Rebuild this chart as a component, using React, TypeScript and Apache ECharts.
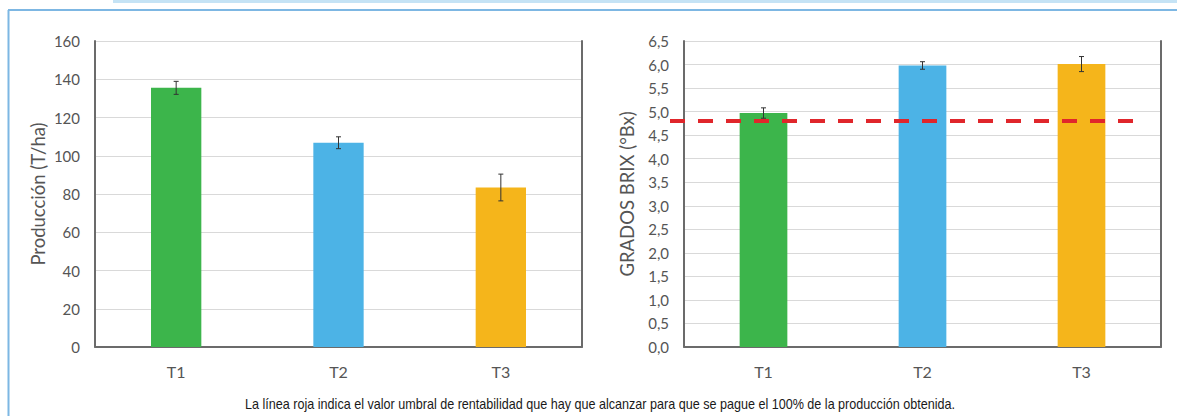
import React, { useEffect, useRef } from "react";
import * as echarts from "echarts";

const categories = ["T1", "T2", "T3"];
const production = [135.5, 106.8, 83.4];
const productionErr = [3.4, 3.1, 7.0];
const brix = [4.97, 5.98, 6.01];
const brixErr = [0.11, 0.08, 0.16];
const threshold = 4.8;
const barColors = ["#3cb54b", "#4cb3e6", "#f5b51b"];
const prodAxis = { min: 0, max: 160, interval: 20 };
const brixAxis = { min: 0, max: 6.5, interval: 0.5 };
const leftAxisName = "Producción (T/ha)";
const rightAxisName = "GRADOS BRIX (°Bx)";
const caption =
  "La línea roja indica el valor umbral de rentabilidad que hay que alcanzar para que se pague el 100% de la producción obtenida.";

const FONT = "Lato, 'Open Sans', sans-serif";
const LABEL = "#555555";
const DARK = "#6b6b6b";
const LIGHT = "#d9d9d9";

function errorBarSeries(values: number[], errs: number[], axisIdx: number) {
  return {
    type: "custom",
    xAxisIndex: axisIdx,
    yAxisIndex: axisIdx,
    z: 5,
    data: values.map((v, i) => [i, v - errs[i], v + errs[i]]),
    renderItem: (params: any, api: any) => {
      const lo = api.coord([api.value(0), api.value(1)]);
      const hi = api.coord([api.value(0), api.value(2)]);
      const cap = 2.5;
      const style = { stroke: "#333", lineWidth: 1 };
      return {
        type: "group",
        children: [
          { type: "line", shape: { x1: hi[0], y1: hi[1], x2: lo[0], y2: lo[1] }, style },
          { type: "line", shape: { x1: hi[0] - cap, y1: hi[1], x2: hi[0] + cap, y2: hi[1] }, style },
          { type: "line", shape: { x1: lo[0] - cap, y1: lo[1], x2: lo[0] + cap, y2: lo[1] }, style },
        ],
      };
    },
  };
}

function barSeries(values: number[], axisIdx: number, width: string) {
  return {
    type: "bar",
    xAxisIndex: axisIdx,
    yAxisIndex: axisIdx,
    barWidth: width,
    z: 3,
    data: values.map((v, i) => ({ value: v, itemStyle: { color: barColors[i] } })),
  };
}

export default function App() {
  const ref = useRef<HTMLDivElement>(null);
  useEffect(() => {
    if (!ref.current) return;
    const chart = echarts.init(ref.current, undefined, { renderer: "svg" });

    const fmtComma = (v: number) => v.toFixed(1).replace(".", ",");

    const xBottom = (gridIndex: number) => ({
      type: "category",
      gridIndex,
      data: categories,
      position: "bottom",
      axisLine: { show: true, lineStyle: { color: LIGHT, width: 1 } },
      axisTick: { show: false },
      axisLabel: { color: LABEL, fontSize: 16, fontFamily: FONT, margin: 16 },
    });
    const xTop = (gridIndex: number) => ({
      type: "category",
      gridIndex,
      data: categories,
      position: "top",
      axisLine: { show: true, lineStyle: { color: DARK, width: 2 } },
      axisTick: { show: false },
      axisLabel: { show: false },
    });
    const yLeft = (gridIndex: number, ax: any, name: string, fmt?: any) => ({
      type: "value",
      gridIndex,
      position: "left",
      ...ax,
      name,
      nameLocation: "middle",
      nameGap: 48,
      nameTextStyle: { color: LABEL, fontSize: 18.5, fontFamily: FONT },
      axisLine: { show: true, lineStyle: { color: DARK, width: 2 } },
      axisTick: { show: false },
      axisLabel: { color: LABEL, fontSize: 15, fontFamily: FONT, margin: 15, formatter: fmt },
      splitLine: { show: true, lineStyle: { color: LIGHT, width: 1 } },
    });
    const yRight = (gridIndex: number, ax: any) => ({
      type: "value",
      gridIndex,
      position: "right",
      ...ax,
      axisLine: { show: true, lineStyle: { color: DARK, width: 2 } },
      axisTick: { show: false },
      axisLabel: { show: false },
      splitLine: { show: false },
    });

    chart.setOption({
      animation: false,
      backgroundColor: "#ffffff",
      grid: [
        { left: 95, top: 41, width: 487, height: 306 },
        { left: 684, top: 41, width: 477, height: 306 },
      ],
      xAxis: [xBottom(0), xBottom(1), xTop(0), xTop(1)],
      yAxis: [
        yLeft(0, prodAxis, leftAxisName),
        yLeft(1, brixAxis, rightAxisName, fmtComma),
        yRight(0, prodAxis),
        yRight(1, brixAxis),
      ],
      series: [
        barSeries(production, 0, "31%"),
        barSeries(brix, 1, "30%"),
        errorBarSeries(production, productionErr, 0),
        errorBarSeries(brix, brixErr, 1),
        {
          type: "custom",
          xAxisIndex: 1,
          yAxisIndex: 1,
          z: 6,
          data: [[1, threshold]],
          renderItem: (params: any, api: any) => {
            const cs = params.coordSys;
            const y = api.coord([0, api.value(1)])[1];
            return {
              type: "line",
              shape: { x1: cs.x - 14, y1: y, x2: cs.x + cs.width - 18, y2: y },
              style: { stroke: "#e0262b", lineWidth: 4, lineDash: [15, 13] },
            };
          },
        },
      ],
      graphic: [
        { type: "rect", shape: { x: 113, y: 0, width: 1064, height: 3 }, style: { fill: "#c5e3f5" } },
        { type: "line", shape: { x1: 8, y1: 10, x2: 1177, y2: 10 }, style: { stroke: "#7db7e3", lineWidth: 2 } },
        { type: "line", shape: { x1: 8.5, y1: 10, x2: 8.5, y2: 416 }, style: { stroke: "#7db7e3", lineWidth: 2 } },
        {
          type: "text",
          x: 600,
          y: 404,
          scaleX: 0.9,
          style: {
            text: caption,
            fill: "#1a1a1a",
            fontSize: 14,
            fontFamily: "'Liberation Sans', Arial, sans-serif",
            align: "center",
            verticalAlign: "middle",
          },
        },
      ],
    });
    return () => chart.dispose();
  }, []);

  return (
    <div
      ref={ref}
      style={{ position: "absolute", left: 0, top: 0, width: 1177, height: 416, background: "#fff" }}
    />
  );
}
